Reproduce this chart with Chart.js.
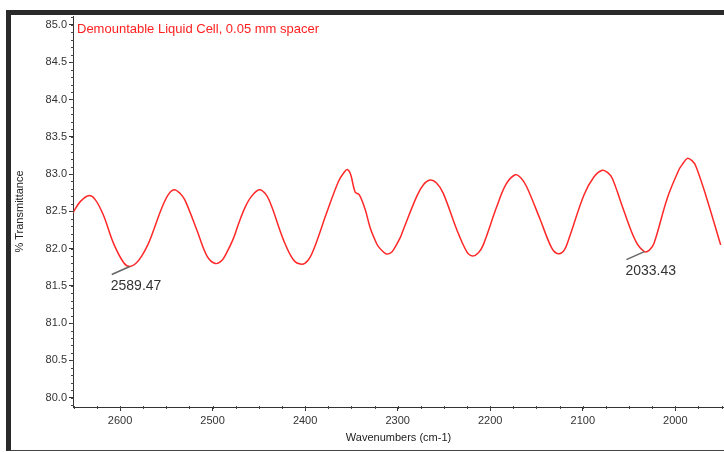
<!DOCTYPE html>
<html>
<head>
<meta charset="utf-8">
<title>Demountable Liquid Cell</title>
<script src="https://cdn.jsdelivr.net/npm/chart.js@4.4.0/dist/chart.umd.min.js"></script>
<style>
  body { margin: 0; background: #fff; }
  #wrap { position: relative; width: 724px; height: 452px; }
  #chart { position: absolute; left: 0; top: 0; }
  #frame {
    position: absolute; left: 6px; top: 10px; width: 713px; height: 435px;
    border-top: 5px solid #2a2a2a; border-left: 5px solid #2a2a2a; border-bottom: 1px solid #444;
    pointer-events: none;
  }
</style>
</head>
<body>
<div id="wrap">
  <canvas id="chart" width="724" height="452"></canvas>
  <div id="frame"></div>
</div>
<script>
'use strict';

// Global Variables
const chartTitle = 'Demountable Liquid Cell, 0.05 mm spacer';

// wavenumbers (cm-1), left to right
const wavenumbers = [
  2651, 2643, 2634, 2627, 2618, 2607, 2596, 2589.5, 2583, 2576.6,
  2570, 2565.7, 2555, 2548, 2541.7, 2535, 2529.8, 2517, 2506, 2497,
  2490, 2485, 2478, 2472, 2465, 2458, 2449.5, 2442, 2436, 2423.5,
  2412.7, 2403.7, 2397, 2391, 2376.7, 2364, 2358, 2354.4, 2350.7, 2346,
  2341.4, 2335, 2330, 2325, 2321, 2312.6, 2308, 2304.7, 2297.5, 2294,
  2279.4, 2272, 2265, 2258, 2250.7, 2236, 2225.4, 2219, 2213, 2207.5,
  2193, 2183, 2173, 2167, 2160.6, 2146, 2133.6, 2126.4, 2120, 2114.8,
  2098.7, 2088, 2078.9, 2073, 2068, 2055.4, 2042.8, 2033.4, 2028, 2023,
  2008.6, 1996, 1992.4, 1987, 1982, 1978, 1967.2, 1951
];

// % transmittance
const transmittance = [
  82.48, 82.63, 82.71, 82.66, 82.45, 82.07, 81.81, 81.76, 81.80, 81.90,
  82.05, 82.18, 82.54, 82.72, 82.79, 82.74, 82.65, 82.25, 81.90, 81.80,
  81.84, 81.94, 82.12, 82.33, 82.55, 82.70, 82.79, 82.72, 82.56, 82.12,
  81.85, 81.79, 81.84, 81.98, 82.48, 82.90, 83.02, 83.06, 82.99, 82.76,
  82.72, 82.52, 82.29, 82.13, 82.03, 81.93, 81.94, 81.98, 82.14, 82.25,
  82.70, 82.86, 82.92, 82.88, 82.74, 82.25, 81.96, 81.90, 81.94, 82.05,
  82.56, 82.86, 82.99, 82.95, 82.83, 82.39, 82.01, 81.93, 81.98, 82.14,
  82.72, 82.96, 83.05, 83.02, 82.94, 82.50, 82.10, 81.96, 81.98, 82.07,
  82.68, 83.06, 83.13, 83.21, 83.18, 83.11, 82.72, 82.05
];

// labelled minima
const markWavenumbers = [2589.47, 2033.43];
const markValues = [81.76, 81.96];

// axis ranges and ticks
const xMin = 1947.4;
const xMax = 2650.8;
const xTicks = [2600, 2500, 2400, 2300, 2200, 2100, 2000];
const xMinorStep = 25;
const yMin = 79.875;
const yMax = 85.12;
const yTicks = [80.0, 80.5, 81.0, 81.5, 82.0, 82.5, 83.0, 83.5, 84.0, 84.5, 85.0];
const yMinorStep = 0.1;

let points = [];
for (let i = 0; i < wavenumbers.length; i++) {
  points.push({ x: wavenumbers[i], y: transmittance[i] });
}

const fontName = '"Liberation Sans", Arial, sans-serif';

// minor ticks, title text and peak labels
const extrasPlugin = {
  id: 'extras',
  afterDraw(chart) {
    let ctx = chart.ctx;
    let xs = chart.scales.x;
    let ys = chart.scales.y;
    let area = chart.chartArea;

    ctx.save();
    ctx.strokeStyle = '#444';
    ctx.lineWidth = 1;
    ctx.beginPath();
    for (let k = Math.ceil(yMin / yMinorStep); k * yMinorStep <= yMax; k++) {
      let py = Math.round(ys.getPixelForValue(k * yMinorStep)) + 0.5;
      ctx.moveTo(area.left - 2, py);
      ctx.lineTo(area.left + 1, py);
    }
    for (let k = Math.ceil(xMin / xMinorStep); k * xMinorStep <= xMax; k++) {
      let px = Math.round(xs.getPixelForValue(k * xMinorStep)) + 0.5;
      ctx.moveTo(px, area.bottom - 1);
      ctx.lineTo(px, area.bottom + 2);
    }
    ctx.stroke();

    // title inside the plot
    ctx.fillStyle = '#ff2020';
    ctx.font = '13px ' + fontName;
    ctx.textBaseline = 'middle';
    ctx.textAlign = 'left';
    ctx.fillText(chartTitle, area.left + 4, area.top + 13);

    // labels on the minima
    ctx.font = '14px ' + fontName;
    for (let i = 0; i < markWavenumbers.length; i++) {
      let px = xs.getPixelForValue(markWavenumbers[i]);
      let py = ys.getPixelForValue(markValues[i]);
      ctx.strokeStyle = '#666';
      ctx.lineWidth = 1.5;
      ctx.beginPath();
      ctx.moveTo(px, py);
      ctx.lineTo(px - 18, py + 8);
      ctx.stroke();
      ctx.fillStyle = '#333';
      ctx.fillText(markWavenumbers[i].toFixed(2), px - 19, py + 20);
    }
    ctx.restore();
  }
};

function renderSpectrum() {
  const ctx = document.getElementById('chart').getContext('2d');

  let myChartData = {
    type: 'line',
    data: {
      datasets: [{
        data: points,
        borderColor: 'rgb(255, 40, 40)',
        borderWidth: 1.5,
        pointRadius: 0,
        tension: 0.35,
        fill: false
      }]
    },
    options: {
      responsive: false,
      animation: false,
      layout: { padding: { top: 16, left: 0, right: 0, bottom: 0 } },
      plugins: {
        legend: { display: false },
        tooltip: { enabled: false }
      },
      scales: {
        x: {
          type: 'linear',
          reverse: true,
          min: xMin,
          max: xMax,
          afterFit(scale) { scale.height = 45; },
          afterBuildTicks(scale) { scale.ticks = xTicks.map((v) => ({ value: v })); },
          ticks: {
            autoSkip: false,
            maxRotation: 0,
            padding: 3,
            color: '#333',
            font: { family: fontName, size: 11 },
            callback: (v) => String(v)
          },
          grid: { drawOnChartArea: false, tickLength: 4, color: '#333' },
          border: { display: true, color: '#333', width: 1 },
          title: {
            display: true,
            text: 'Wavenumbers (cm-1)',
            color: '#222',
            font: { family: fontName, size: 11 },
            padding: { top: 0, bottom: 7 }
          }
        },
        y: {
          min: yMin,
          max: yMax,
          afterFit(scale) { scale.width = 73; },
          afterBuildTicks(scale) { scale.ticks = yTicks.map((v) => ({ value: v })); },
          ticks: {
            autoSkip: false,
            padding: 2,
            color: '#333',
            font: { family: fontName, size: 11 },
            callback: (v) => Number(v).toFixed(1)
          },
          grid: { drawOnChartArea: false, tickLength: 4, color: '#333' },
          border: { display: true, color: '#333', width: 1 },
          title: {
            display: true,
            text: '% Transmittance',
            color: '#222',
            font: { family: fontName, size: 11 },
            padding: 13
          }
        }
      }
    },
    plugins: [extrasPlugin]
  };

  let myChart = new Chart(ctx, myChartData);
}

renderSpectrum();
</script>
</body>
</html>
